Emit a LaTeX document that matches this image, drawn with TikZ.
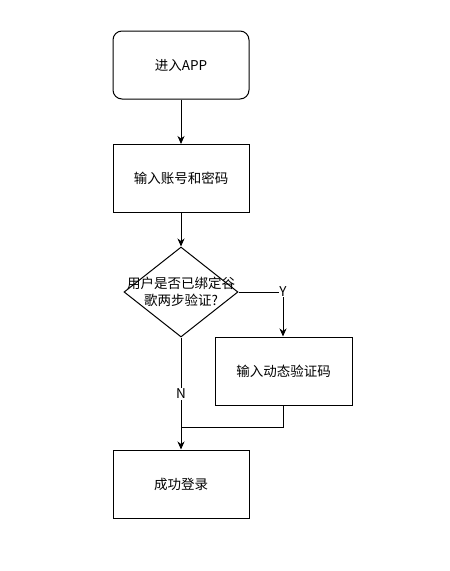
\documentclass[tikz,border=0pt]{standalone}
\usepackage{fontspec}
\setmainfont{Noto Sans CJK SC}
\usetikzlibrary{shapes.geometric,arrows.meta}
\begin{document}
\begin{tikzpicture}[x=1pt,y=-1pt,
  every node/.style={font=\fontsize{13.5}{16}\selectfont},
  procbox/.style={draw,line width=1pt,minimum width=136pt,minimum height=68pt,inner sep=0pt},
  arr/.style={line width=1pt,-{Stealth[length=8pt,width=7pt,inset=2.5pt]}},
  ln/.style={line width=1pt}]
\useasboundingbox (0,0) rectangle (450,571);
\node[procbox,rounded corners=9pt] (start) at (181,65) {进入APP};
\node[procbox] (login) at (181,178.5) {输入账号和密码};
\node[draw,line width=1pt,diamond,minimum width=114pt,minimum height=90pt,inner sep=0pt,aspect=1.27] (dec) at (181,292) {};
\node[align=center,font=\fontsize{13.5}{17}\selectfont] (dectext) at (181,292) {用户是否已绑定谷\\歌两步验证?};
\node[procbox,minimum width=137pt] (code) at (283.5,371) {输入动态验证码};
\node[procbox] (ok) at (181,484) {成功登录};
\coordinate (ycorner) at (283,292);
\coordinate (merge) at (181,427);
\coordinate (mright) at (283,427);
\draw[arr] (start) -- (login);
\draw[arr] (login) -- (dec);
\draw[ln] (dec.east) -- (ycorner);
\draw[arr] (ycorner) -- (code.north -| ycorner);
\node[fill=white,inner sep=0.5pt] (ylabel) at (283,292) {Y};
\draw[ln] (code.south -| mright) -- (mright) -- (merge);
\draw[arr] (dec.south) -- (ok.north);
\node[fill=white,inner sep=1pt] (nlabel) at (181,394) {N};
\end{tikzpicture}
\end{document}
